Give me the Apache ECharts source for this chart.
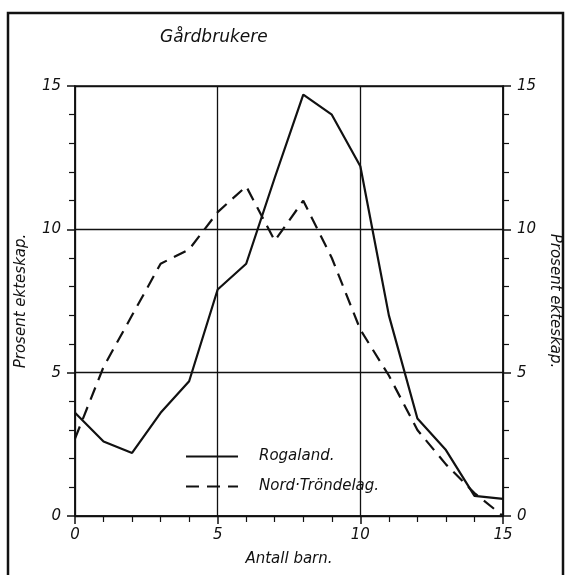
<!DOCTYPE html>
<html>
<head>
<meta charset="utf-8">
<script src="https://cdn.jsdelivr.net/npm/echarts@6/dist/echarts.min.js"></script>
<style>
  html, body { margin: 0; padding: 0; background: #fff; }
  #chart { width: 570px; height: 575px; }
</style>
</head>
<body>
<div id="chart"></div>
<script>
// Antall barn (0..15)
var children = [0, 1, 2, 3, 4, 5, 6, 7, 8, 9, 10, 11, 12, 13, 14, 15];
// Prosent ekteskap
var rogaland = [3.6, 2.6, 2.2, 3.6, 4.7, 7.9, 8.8, 11.8, 14.7, 14.0, 12.2, 7.0, 3.4, 2.3, 0.7, 0.6];
var nordTrondelag = [2.7, 5.2, 7.0, 8.8, 9.3, 10.6, 11.5, 9.6, 11.0, 9.0, 6.5, 4.9, 3.0, 1.8, 0.8, 0.0];
var seriesNames = ['Rogaland.', 'Nord·Tröndelag.'];

var FONT = 'DejaVu Sans';
var ink = '#111';

function pairs(ys) {
    var out = [];
    for (var i = 0; i < children.length; i++) {
        out.push([children[i], ys[i]]);
    }
    return out;
}

var textBase = { color: ink, fontFamily: FONT, fontStyle: 'italic' };

function yAxis(pos) {
    return {
        type: 'value',
        position: pos,
        min: 0,
        max: 15,
        interval: 5,
        name: 'Prosent ekteskap.',
        nameLocation: 'middle',
        nameGap: pos == 'left' ? 46 : 34,
        nameRotate: pos == 'left' ? 90 : -90,
        nameTextStyle: Object.assign({ fontSize: 15, letterSpacing: 2 }, textBase),
        axisLine: { show: true, lineStyle: { color: ink, width: 1.5 } },
        axisTick: { show: true, inside: false, length: 8, lineStyle: { color: ink, width: 1.5 } },
        minorTick: { show: true, splitNumber: 5, length: 6, lineStyle: { color: ink, width: 1.2 } },
        axisLabel: Object.assign({ fontSize: 15, margin: 14 }, textBase),
        splitLine: { show: pos == 'left', lineStyle: { color: ink, width: 1.3 } }
    };
}

var chart = echarts.init(document.getElementById('chart'));

var option = {
    backgroundColor: '#fff',
    animation: false,
    title: {
        text: 'Gårdbrukere',
        left: 155,
        top: 24,
        textStyle: Object.assign({ fontSize: 17, fontWeight: 'normal' }, textBase)
    },
    grid: {
        left: 75, right: 62, top: 86, bottom: 59,
        show: true, borderColor: ink, borderWidth: 1.5
    },
    legend: {
        orient: 'vertical',
        left: 180,
        top: 444,
        itemWidth: 52,
        itemHeight: 14,
        itemGap: 15,
        data: seriesNames,
        itemStyle: { opacity: 0 },
        textStyle: Object.assign({ fontSize: 15, padding: [0, 0, 0, 16] }, textBase)
    },
    xAxis: {
        type: 'value',
        min: 0,
        max: 15,
        interval: 5,
        name: 'Antall barn.',
        nameLocation: 'middle',
        nameGap: 36,
        nameTextStyle: Object.assign({ fontSize: 15, letterSpacing: 2 }, textBase),
        axisLine: { show: true, lineStyle: { color: ink, width: 1.5 } },
        axisTick: { show: true, length: 8, lineStyle: { color: ink, width: 1.5 } },
        minorTick: { show: true, splitNumber: 5, length: 6, lineStyle: { color: ink, width: 1.2 } },
        axisLabel: Object.assign({ fontSize: 15, margin: 12 }, textBase),
        splitLine: { show: true, lineStyle: { color: ink, width: 1.3 } }
    },
    yAxis: [yAxis('left'), yAxis('right')],
    series: [
        {
            name: seriesNames[0],
            type: 'line',
            data: pairs(rogaland),
            showSymbol: false,
            symbol: 'none',
            color: ink,
            lineStyle: { color: ink, width: 2.2 }
        },
        {
            name: seriesNames[1],
            type: 'line',
            data: pairs(nordTrondelag),
            showSymbol: false,
            symbol: 'none',
            color: ink,
            lineStyle: { color: ink, width: 2.2, type: [13, 8] }
        }
    ],
    graphic: [
        {
            type: 'rect',
            shape: { x: 8, y: 13, width: 555, height: 580 },
            style: { fill: null, stroke: ink, lineWidth: 2.5 },
            silent: true
        }
    ]
};

chart.setOption(option);
</script>
</body>
</html>
